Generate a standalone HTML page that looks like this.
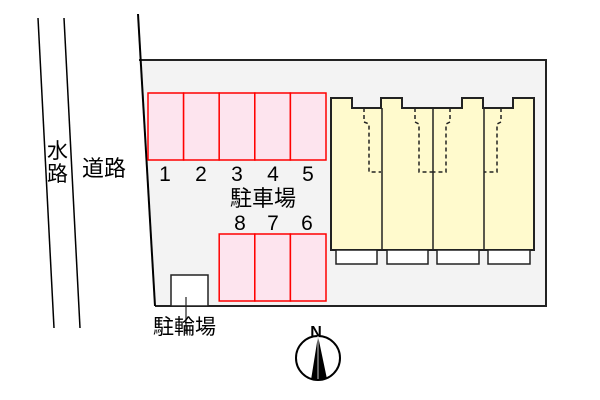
<!DOCTYPE html>
<html><head><meta charset="utf-8"><style>
html,body{margin:0;padding:0;background:#fff;}
svg{display:block;}
text{font-family:"Liberation Sans","Noto Sans CJK JP",sans-serif;fill:#000;}
</style></head><body>
<svg width="600" height="400" viewBox="0 0 600 400" xmlns="http://www.w3.org/2000/svg">
<polygon points="139,60 546,60 546,306 155,306" fill="#f3f3f3"/>
<polyline points="139,60 546,60 546,306 155,306" fill="none" stroke="#222" stroke-width="2"/>
<line x1="138" y1="14" x2="155" y2="306" stroke="#000" stroke-width="2"/>
<line x1="38" y1="18" x2="54" y2="328" stroke="#000" stroke-width="1.5"/>
<line x1="64" y1="18" x2="80" y2="328" stroke="#000" stroke-width="1.5"/>
<text x="47" y="158" font-size="21">水</text>
<text x="47" y="181" font-size="21">路</text>
<text x="82" y="176" font-size="22">道路</text>
<g fill="#fde4ee" stroke="#f00" stroke-width="1.5">
<rect x="148" y="93" width="35.6" height="67"/><rect x="183.6" y="93" width="35.6" height="67"/>
<rect x="219.2" y="93" width="35.6" height="67"/><rect x="254.8" y="93" width="35.6" height="67"/>
<rect x="290.4" y="93" width="35.6" height="67"/>
<rect x="219.2" y="234" width="35.6" height="67"/><rect x="254.8" y="234" width="35.6" height="67"/>
<rect x="290.4" y="234" width="35.6" height="67"/>
</g>
<g font-size="21" text-anchor="middle">
<text x="165" y="181">1</text><text x="201" y="181">2</text><text x="237" y="181">3</text><text x="273" y="181">4</text><text x="308" y="181">5</text>
<text x="240" y="230">8</text><text x="273" y="230">7</text><text x="307" y="230">6</text>
</g>
<text x="263" y="206" font-size="22" text-anchor="middle">駐車場</text>
<polygon points="331,98 352,98 352,108 381,108 381,98 402,98 402,108 462,108 462,98 483,98 483,108 513,108 513,98 534,98 534,250 331,250" fill="#fffacd" stroke="#222" stroke-width="2"/>
<g stroke="#222" stroke-width="1.5"><line x1="382" y1="108" x2="382" y2="250"/><line x1="433" y1="108" x2="433" y2="250"/><line x1="484" y1="108" x2="484" y2="250"/></g>
<g fill="none" stroke="#222" stroke-width="1.5" stroke-dasharray="4,3">
<polyline points="364,108 364,122 369,124 369,172 381,172"/>
<polyline points="415,108 415,122 419,124 419,172 433,172"/>
<polyline points="450,108 450,122 446,124 446,172 433,172"/>
<polyline points="501,108 501,122 497,124 497,172 484,172"/>
</g>
<g fill="#fff" stroke="#222" stroke-width="1.5">
<rect x="336" y="250" width="41" height="14"/><rect x="387" y="250" width="41" height="14"/>
<rect x="437" y="250" width="42" height="14"/><rect x="488" y="250" width="42" height="14"/>
</g>
<rect x="171" y="275" width="37" height="31" fill="#fff" stroke="#222" stroke-width="1.5"/>
<line x1="186" y1="297" x2="186" y2="334" stroke="#222" stroke-width="1.2"/>
<text x="153" y="334" font-size="21">駐輪場</text>
<text x="316" y="337" font-size="16" text-anchor="middle" font-weight="bold">N</text>
<circle cx="318" cy="358" r="22" fill="#fff" stroke="#000" stroke-width="2"/>
<polygon points="318,336 311,380 327,379" fill="#000"/>
<line x1="318" y1="336" x2="318" y2="379" stroke="#fff" stroke-width="0.8"/>
</svg>
</body></html>
